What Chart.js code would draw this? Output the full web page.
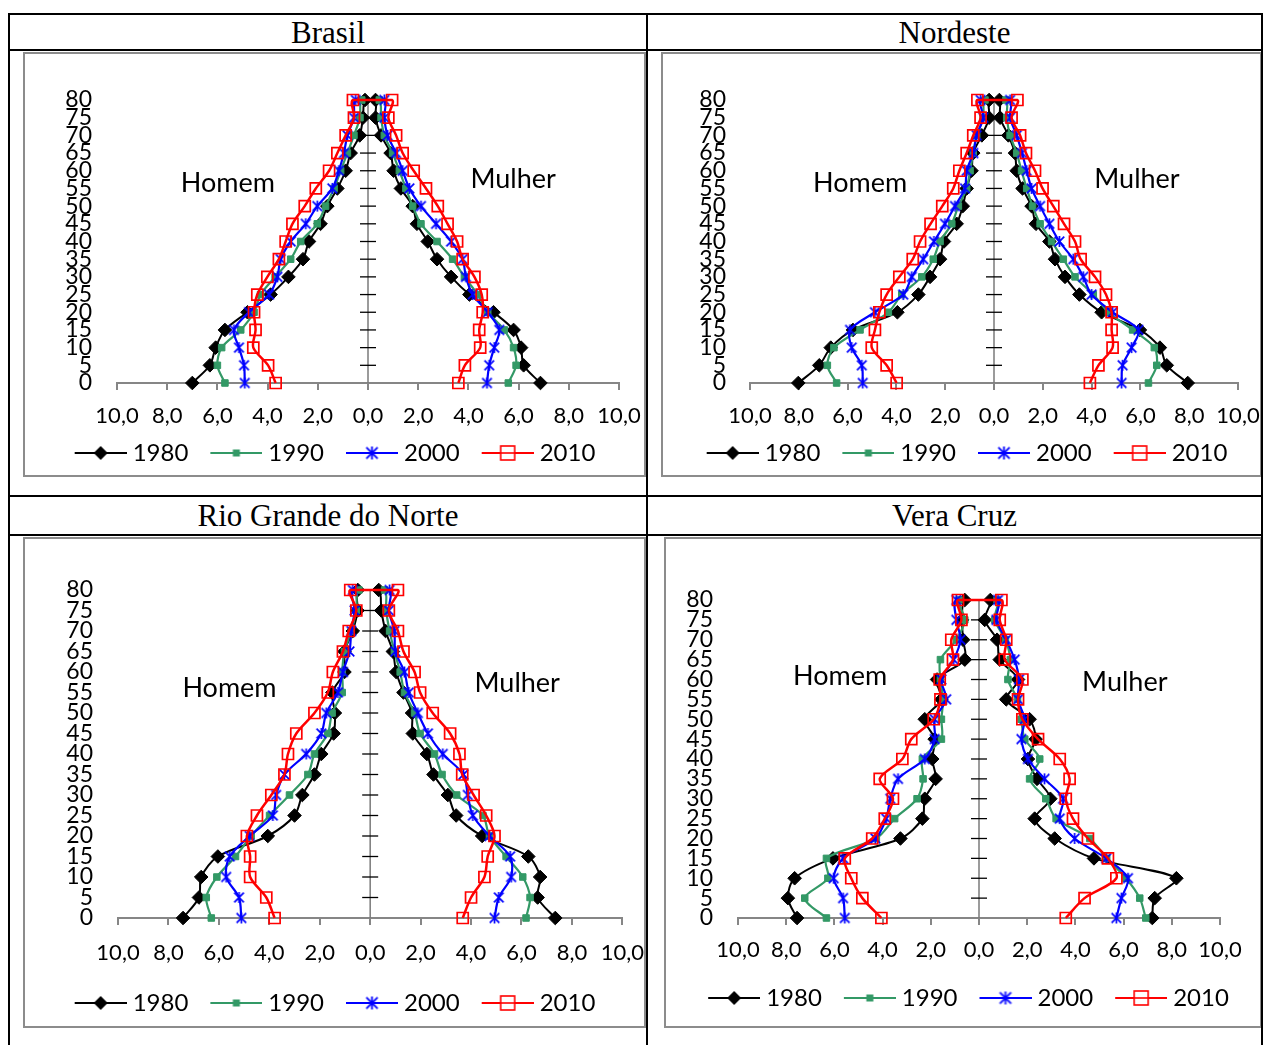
<!DOCTYPE html>
<html><head><meta charset="utf-8">
<script src="https://cdn.jsdelivr.net/npm/chart.js@4.4.1/dist/chart.umd.min.js"></script>
<style>
body{margin:0;background:#fff;width:1263px;height:1045px;position:relative;overflow:hidden;}
.ln{position:absolute;background:#000;}
.box{position:absolute;border:2px solid #8c8c8c;box-sizing:border-box;}
.title{position:absolute;font-family:'Liberation Serif','Times New Roman',serif;font-size:31px;text-align:center;line-height:35px;color:#000;}
canvas{position:absolute;}
</style></head><body>
<div class="box" style="left:23px;top:52px;width:623px;height:425px"></div>
<div class="box" style="left:661px;top:52px;width:601px;height:425px"></div>
<div class="box" style="left:23px;top:537px;width:623px;height:491px"></div>
<div class="box" style="left:664px;top:537px;width:598px;height:491px"></div>
<canvas id="c1" width="619" height="421" style="left:25px;top:54px"></canvas>
<canvas id="c2" width="597" height="421" style="left:663px;top:54px"></canvas>
<canvas id="c3" width="619" height="487" style="left:25px;top:539px"></canvas>
<canvas id="c4" width="594" height="487" style="left:666px;top:539px"></canvas>
<div class="ln" style="left:8px;top:13px;width:1255px;height:2px"></div>
<div class="ln" style="left:8px;top:49px;width:1255px;height:2px"></div>
<div class="ln" style="left:8px;top:495px;width:1255px;height:2px"></div>
<div class="ln" style="left:8px;top:534px;width:1255px;height:2px"></div>
<div class="ln" style="left:8px;top:13px;width:2px;height:1032px"></div>
<div class="ln" style="left:646px;top:13px;width:2px;height:1032px"></div>
<div class="ln" style="left:1261px;top:13px;width:2px;height:1032px"></div>
<div class="title" style="left:10px;top:15px;width:636px">Brasil</div>
<div class="title" style="left:648px;top:15px;width:613px">Nordeste</div>
<div class="title" style="left:10px;top:498px;width:636px">Rio Grande do Norte</div>
<div class="title" style="left:648px;top:498px;width:613px">Vera Cruz</div>
<script>
// ---- categories ----
const ages = [0,5,10,15,20,25,30,35,40,45,50,55,60,65,70,75,80];
const years = ['1980','1990','2000','2010'];
const xTickValues = [-10,-8,-6,-4,-2,0,2,4,6,8,10];

// ---- Brasil (% of population, Homem / Mulher) ----
const brasilH1980 = [7.0,6.3,6.07,5.7,4.8,3.88,3.17,2.59,2.35,1.89,1.62,1.22,0.89,0.69,0.33,0.2,0.12];
const brasilM1980 = [6.87,6.2,6.1,5.8,5.0,4.04,3.31,2.75,2.38,1.95,1.78,1.31,1.02,0.9,0.52,0.3,0.3];
const brasilH1990 = [5.7,6.0,5.83,5.07,4.54,4.28,3.7,3.08,2.68,2.02,1.69,1.35,1.09,0.82,0.56,0.32,0.25];
const brasilM1990 = [5.59,5.9,5.8,5.43,4.77,4.37,3.84,3.37,2.75,2.11,1.78,1.51,1.25,0.98,0.65,0.52,0.45];
const brasilH2000 = [4.91,4.94,5.14,5.34,4.74,3.94,3.61,3.48,3.08,2.48,2.02,1.42,1.16,0.96,0.82,0.56,0.49];
const brasilM2000 = [4.74,4.83,5.03,5.23,4.77,4.17,3.9,3.77,3.31,2.71,2.11,1.65,1.38,1.12,0.78,0.65,0.65];
const brasilH2010 = [3.68,3.98,4.57,4.48,4.54,4.41,4.01,3.55,3.28,3.01,2.52,2.08,1.55,1.22,0.89,0.56,0.6];
const brasilM2010 = [3.6,3.86,4.47,4.43,4.57,4.53,4.24,3.77,3.55,3.17,2.78,2.31,1.82,1.38,1.12,0.81,0.96];

// ---- Nordeste ----
const nordesteH1980 = [8.02,7.16,6.69,5.78,3.96,3.1,2.62,2.21,2.05,1.53,1.28,1.12,0.92,0.85,0.5,0.2,0.2];
const nordesteM1980 = [7.94,7.08,6.8,5.98,4.41,3.5,2.91,2.5,2.27,1.72,1.54,1.17,0.93,0.86,0.59,0.25,0.22];
const nordesteH1990 = [6.45,6.83,6.56,5.49,4.33,3.78,2.96,2.49,2.21,1.73,1.46,1.12,0.98,0.85,0.71,0.44,0.37];
const nordesteM1990 = [6.33,6.67,6.57,5.68,4.69,4.07,3.32,2.84,2.36,1.89,1.58,1.34,1.13,0.93,0.66,0.52,0.49];
const nordesteH2000 = [5.38,5.42,5.83,5.9,4.88,3.72,3.37,2.9,2.46,2.01,1.6,1.19,1.12,0.85,0.71,0.44,0.55];
const nordesteM2000 = [5.23,5.27,5.64,5.92,4.86,4.0,3.66,3.25,2.68,2.27,1.89,1.54,1.34,1.15,0.93,0.66,0.66];
const nordesteH2010 = [3.99,4.4,5.01,4.88,4.7,4.4,3.88,3.33,3.03,2.6,2.12,1.67,1.42,1.12,0.85,0.55,0.68];
const nordesteM2010 = [3.93,4.28,4.86,4.82,4.82,4.59,4.14,3.55,3.32,2.87,2.43,1.99,1.68,1.31,1.07,0.72,0.96];

// ---- Rio Grande do Norte ----
const rgnH1980 = [7.42,6.79,6.7,6.04,4.06,3.0,2.69,2.21,1.94,1.45,1.4,1.5,1.02,1.02,0.69,0.5,0.49];
const rgnM1980 = [7.34,6.64,6.74,6.27,4.44,3.41,3.08,2.51,2.25,1.69,1.66,1.32,1.03,0.9,0.61,0.44,0.34];
const rgnH1990 = [6.3,6.5,6.08,5.34,4.72,3.99,3.2,2.47,2.21,1.68,1.51,1.11,1.11,1.02,0.75,0.55,0.45];
const rgnM1990 = [6.18,6.34,6.05,5.39,4.73,4.47,3.43,2.85,2.55,1.98,1.76,1.36,1.19,0.96,0.77,0.63,0.57];
const rgnH2000 = [5.11,5.2,5.71,5.57,4.78,3.86,3.73,3.4,2.54,1.94,1.74,1.28,1.08,0.82,0.75,0.62,0.69];
const rgnM2000 = [4.93,5.1,5.59,5.55,4.73,4.07,3.87,3.7,2.88,2.29,1.89,1.53,1.36,1.0,0.96,0.74,0.77];
const rgnH2010 = [3.79,4.12,4.76,4.76,4.89,4.49,3.92,3.4,3.26,2.93,2.21,1.68,1.48,1.08,0.85,0.55,0.79];
const rgnM2010 = [3.67,4.0,4.53,4.66,4.93,4.6,4.1,3.65,3.54,3.17,2.48,1.98,1.76,1.32,1.1,0.74,1.1];

// ---- Vera Cruz ----
const veraH1980 = [7.55,7.93,7.65,6.06,3.26,2.35,2.25,1.8,1.94,1.84,2.25,1.56,1.74,0.59,0.66,0.7,0.59];
const veraM1980 = [7.19,7.29,8.19,4.77,3.14,2.31,2.96,2.41,2.03,2.35,2.1,1.13,1.62,0.86,0.75,0.24,0.47];
const veraH1990 = [6.33,7.23,6.27,6.33,4.26,3.5,2.57,2.32,2.35,1.56,1.56,1.49,1.6,1.6,0.94,0.59,0.83];
const veraM1990 = [6.92,6.67,6.1,5.3,4.6,3.2,2.77,2.1,2.52,1.9,1.75,1.6,1.2,1.3,1.1,0.65,0.75];
const veraH2000 = [5.57,5.64,6.03,5.64,4.3,3.85,3.68,3.36,2.25,1.84,1.84,1.36,1.56,1.05,0.77,0.94,0.94];
const veraM2000 = [5.7,5.91,6.18,5.28,3.97,3.35,3.49,2.72,2.03,1.76,1.89,1.62,1.66,1.48,1.13,0.72,0.79];
const veraH2010 = [4.05,4.84,5.3,5.57,4.43,3.91,3.57,4.12,3.18,2.81,1.88,1.6,1.63,1.08,1.15,0.73,0.87];
const veraM2010 = [3.6,4.38,5.7,5.35,4.52,3.9,3.6,3.76,3.35,2.45,1.8,1.62,1.8,1.07,1.13,0.86,0.93];

// ---- side labels ----
const sideTexts = ['Homem','Mulher'];

// ---------------------------------------------------------------
const colors = ['#000000','#339966','#0000ff','#ff0000'];

function makeStar(size, color, lw) {
  const c = document.createElement('canvas'); c.width = size; c.height = size;
  const g = c.getContext('2d'); g.strokeStyle = color; g.lineWidth = lw;
  const m = size/2, r = size/2 - 1;
  g.beginPath();
  g.moveTo(m - r*0.87, m - r*0.87); g.lineTo(m + r*0.87, m + r*0.87);
  g.moveTo(m + r*0.87, m - r*0.87); g.lineTo(m - r*0.87, m + r*0.87);
  g.moveTo(m, m - r); g.lineTo(m, m + r);
  g.stroke();
  return c;
}
const starImg = makeStar(13, '#0000ff', 1.7);

// legend icon: blank margin on the left, 52px line + marker on the right
const LEG_BOX = 57, LEG_IMG = 69, LEG_OFF = LEG_IMG - 52;
function makeLegendIcon(i) {
  const c = document.createElement('canvas'); c.width = LEG_IMG; c.height = 24;
  const g = c.getContext('2d');
  const o = LEG_OFF, m = o + 26;
  g.strokeStyle = colors[i]; g.lineWidth = 2;
  g.beginPath(); g.moveTo(o, 12); g.lineTo(o + 52, 12); g.stroke();
  if (i === 0) {
    g.fillStyle = '#000'; g.beginPath();
    g.moveTo(m-7,12); g.lineTo(m,5); g.lineTo(m+7,12); g.lineTo(m,19); g.closePath(); g.fill();
  } else if (i === 1) {
    g.fillStyle = colors[1]; g.fillRect(m-3.5, 12-3.5, 7, 7);
  } else if (i === 2) {
    g.drawImage(makeStar(15, '#0000ff', 1.8), m-7.5, 12-7.5);
  } else {
    g.fillStyle = '#fff'; g.fillRect(m-7, 12-7, 14, 14);
    g.strokeStyle = colors[3]; g.lineWidth = 1.6; g.strokeRect(m-7, 12-7, 14, 14);
    g.beginPath(); g.moveTo(m-7,12); g.lineTo(m+7,12); g.stroke();
  }
  return c;
}
const legendIcons = [0,1,2,3].map(makeLegendIcon);

const seriesStyles = [
  {pointStyle:'rectRot', pointRadius:6.8, pointBackgroundColor:'#000', pointBorderColor:'#000', pointBorderWidth:1, borderWidth:2},
  {pointStyle:'rect', pointRadius:4.6, pointBackgroundColor:'#339966', pointBorderColor:'#339966', pointBorderWidth:1, borderWidth:2.2},
  {pointStyle:starImg, pointRadius:6.5, pointBackgroundColor:'#0000ff', pointBorderColor:'#0000ff', borderWidth:2.2},
  {pointStyle:'rect', pointRadius:7.8, pointBackgroundColor:'rgba(255,255,255,0)', pointBorderColor:'#ff0000', pointBorderWidth:1.7, borderWidth:2.5}
];

function buildPoints(h, m) {
  const pts = [];
  ages.forEach((a, i) => pts.push({x: -h[i], y: a}));
  for (let i = ages.length - 1; i >= 0; i--) pts.push({x: m[i], y: ages[i]});
  return pts;
}

const centerAxis = {
  id: 'centerAxis',
  beforeDatasetsDraw(chart) {
    const {ctx, scales: {x, y}} = chart;
    const x0 = x.getPixelForValue(0);
    ctx.save();
    ctx.strokeStyle = '#7a7a7a'; ctx.lineWidth = 1.5;
    ctx.beginPath(); ctx.moveTo(x0, y.getPixelForValue(y.max)); ctx.lineTo(x0, y.getPixelForValue(y.min)); ctx.stroke();
    ctx.strokeStyle = '#000'; ctx.lineWidth = 1.3;
    y.ticks.forEach(t => {
      if (t.value === y.min) return;
      const py = y.getPixelForValue(t.value);
      ctx.beginPath(); ctx.moveTo(x0 - 8, py); ctx.lineTo(x0 + 8, py); ctx.stroke();
    });
    ctx.restore();
  }
};
const sideLabels = {
  id: 'sideLabels',
  afterDatasetsDraw(chart, args, opts) {
    const {ctx, scales: {x, y}} = chart;
    ctx.save();
    ctx.font = '27px Lato'; ctx.fillStyle = '#000'; ctx.textAlign = 'center'; ctx.textBaseline = 'middle';
    opts.items.forEach(it => ctx.fillText(it.text, x.getPixelForValue(it.x), y.getPixelForValue(it.y)));
    ctx.restore();
  }
};

function fmt(v) { return Math.abs(v).toFixed(1).replace('.', ','); }

function makeChart(id, series, lay, labelPos) {
  const datasets = series.map((s, i) => Object.assign({
    label: years[i],
    data: buildPoints(s[0], s[1]),
    showLine: true,
    borderColor: colors[i],
    tension: 0.3,
    clip: false,
    order: 4 - i
  }, seriesStyles[i]));
  new Chart(document.getElementById(id), {
    type: 'scatter',
    data: {datasets},
    plugins: [centerAxis, sideLabels],
    options: {
      responsive: false, animation: false, devicePixelRatio: 1,
      layout: {autoPadding: false, padding: {left: 0, right: lay.padR, top: lay.top, bottom: lay.bottom}},
      plugins: {
        tooltip: {enabled: false},
        sideLabels: {items: sideTexts.map((t, k) => ({text: t, x: labelPos[k][0], y: labelPos[k][1]}))},
        legend: {
          position: 'bottom',
          labels: {
            usePointStyle: true, pointStyleWidth: LEG_BOX, boxHeight: 24, padding: 11,
            color: '#000', font: {family: 'Lato', size: 24},
            generateLabels: () => years.map((yr, i) => ({
              text: yr, pointStyle: legendIcons[i], fillStyle: '#fff', strokeStyle: colors[i],
              lineWidth: 0, hidden: false, datasetIndex: i, fontColor: '#000'
            }))
          }
        }
      },
      scales: {
        x: {
          type: 'linear', min: xTickValues[0], max: xTickValues[xTickValues.length - 1],
          afterBuildTicks: s => { s.ticks = xTickValues.map(v => ({value: v})); },
          ticks: {callback: fmt, color: '#000', font: {family: 'Lato', size: 22, lineHeight: lay.xLH / 22}, padding: 0, maxRotation: 0, autoSkip: false},
          grid: {drawOnChartArea: false, drawTicks: true, tickLength: 7, color: '#868686', lineWidth: 2},
          border: {display: true, color: '#868686', width: 2},
          afterFit: s => { s.height = lay.xH; }
        },
        y: {
          type: 'linear', position: 'left', min: ages[0], max: ages[ages.length - 1],
          afterBuildTicks: s => { s.ticks = ages.map(v => ({value: v})); },
          ticks: {color: '#000', font: {family: 'Lato', size: 23}, padding: lay.yPad, autoSkip: false},
          grid: {display: false, drawTicks: false},
          border: {display: false},
          afterFit: s => { s.width = lay.yW; }
        },
        yR: {
          type: 'linear', position: 'right', display: true,
          ticks: {display: false}, grid: {display: false, drawTicks: false}, border: {display: false},
          afterFit: s => { s.width = lay.rW; }
        }
      }
    }
  });
}

makeChart('c1',
  [[brasilH1980, brasilM1980], [brasilH1990, brasilM1990], [brasilH2000, brasilM2000], [brasilH2010, brasilM2010]],
  {top: 46, bottom: 0, padR: 10, yW: 92, rW: 15, xH: 47, yPad: 25, xLH: 52},
  [[-5.58, 56.5], [5.78, 57.7]]);
makeChart('c2',
  [[nordesteH1980, nordesteM1980], [nordesteH1990, nordesteM1990], [nordesteH2000, nordesteM2000], [nordesteH2010, nordesteM2010]],
  {top: 46, bottom: 0, padR: 0, yW: 87, rW: 22, xH: 47, yPad: 24, xLH: 52},
  [[-5.49, 56.5], [5.86, 57.7]]);
makeChart('c3',
  [[rgnH1980, rgnM1980], [rgnH1990, rgnM1990], [rgnH2000, rgnM2000], [rgnH2010, rgnM2010]],
  {top: 51, bottom: 1, padR: 10, yW: 93, rW: 11, xH: 62, yPad: 25, xLH: 56},
  [[-5.58, 56.1], [5.83, 57.3]]);
makeChart('c4',
  [[veraH1980, veraM1980], [veraH1990, veraM1990], [veraH2000, veraM2000], [veraH2010, veraM2010]],
  {top: 61, bottom: 6, padR: 0, yW: 72, rW: 40, xH: 57, yPad: 25, xLH: 50},
  [[-5.76, 60.9], [6.05, 59.4]]);
</script>
</body></html>
